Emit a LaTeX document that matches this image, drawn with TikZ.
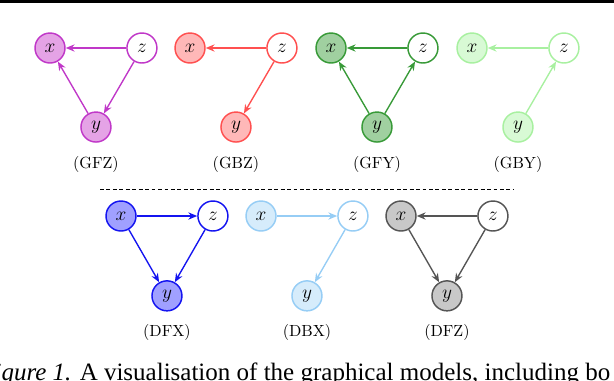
\documentclass[tikz,border=0pt]{standalone}
\usepackage{fontspec}
\newfontfamily\capfont{Liberation Serif}
\usetikzlibrary{arrows.meta, positioning}

\definecolor{gfzline}{RGB}{192,56,200}
\definecolor{gfzfill}{RGB}{229,163,230}
\definecolor{gbzline}{RGB}{255,80,80}
\definecolor{gbzfill}{RGB}{255,184,184}
\definecolor{gfyline}{RGB}{56,154,56}
\definecolor{gfyfill}{RGB}{160,208,160}
\definecolor{gbyline}{RGB}{168,240,160}
\definecolor{gbyfill}{RGB}{216,250,213}
\definecolor{dfxline}{RGB}{20,20,240}
\definecolor{dfxfill}{RGB}{160,160,255}
\definecolor{dbxline}{RGB}{150,205,245}
\definecolor{dbxfill}{RGB}{214,236,251}
\definecolor{dfzline}{RGB}{85,85,85}
\definecolor{dfzfill}{RGB}{200,200,200}

\begin{document}
\begin{tikzpicture}[
    x=0.62pt, y=-0.62pt,
    node distance=57pt, on grid,
    var/.style={circle, draw, line width=0.9pt, minimum size=18.6pt, inner sep=0pt, font=\large},
    gfz/.style={var, draw=gfzline, fill=gfzfill},
    gbz/.style={var, draw=gbzline, fill=gbzfill},
    gfy/.style={var, draw=gfyline, fill=gfyfill},
    gby/.style={var, draw=gbyline, fill=gbyfill},
    dfx/.style={var, draw=dfxline, fill=dfxfill},
    dbx/.style={var, draw=dbxline, fill=dbxfill},
    dfz/.style={var, draw=dfzline, fill=dfzfill},
    fwd/.style={-{Stealth[length=5.5pt, width=4.5pt]}, line width=0.85pt},
    bwd/.style={-{Stealth[open, length=5.5pt, width=4.5pt]}, line width=0.85pt}
]
    \useasboundingbox (0,0) rectangle (614,380);

    \coordinate (rl) at (0,1.5);
    \coordinate (rr) at (614,1.5);
    \draw[line width=1.9pt] (rl) -- (rr);

    \node[gfz] (gfzx) at (50,48) {$x$};
    \node[gfz, fill=white, right=of gfzx] (gfzz) {$z$};
    \node[gfz, below right=49pt and 28.5pt of gfzx] (gfzy) {$y$};
    \node[below=23.5pt of gfzy] (gfzl) {(GFZ)};
    \draw[fwd, gfzline] (gfzz) -- (gfzx);
    \draw[fwd, gfzline] (gfzy) -- (gfzx);
    \draw[fwd, gfzline] (gfzz) -- (gfzy);

    \node[gbz] (gbzx) at (190,48) {$x$};
    \node[gbz, fill=white, right=of gbzx] (gbzz) {$z$};
    \node[gbz, below right=49pt and 28.5pt of gbzx] (gbzy) {$y$};
    \node[below=23.5pt of gbzy] (gbzl) {(GBZ)};
    \draw[bwd, gbzline] (gbzz) -- (gbzx);
    \draw[bwd, gbzline] (gbzz) -- (gbzy);

    \node[gfy] (gfyx) at (331,48) {$x$};
    \node[gfy, fill=white, right=of gfyx] (gfyz) {$z$};
    \node[gfy, below right=49pt and 28.5pt of gfyx] (gfyy) {$y$};
    \node[below=23.5pt of gfyy] (gfyl) {(GFY)};
    \draw[fwd, gfyline] (gfyz) -- (gfyx);
    \draw[fwd, gfyline] (gfyy) -- (gfyx);
    \draw[fwd, gfyline] (gfyy) -- (gfyz);

    \node[gby] (gbyx) at (472,48) {$x$};
    \node[gby, fill=white, right=of gbyx] (gbyz) {$z$};
    \node[gby, below right=49pt and 28.5pt of gbyx] (gbyy) {$y$};
    \node[below=23.5pt of gbyy] (gbyl) {(GBY)};
    \draw[bwd, gbyline] (gbyz) -- (gbyx);
    \draw[bwd, gbyline] (gbyy) -- (gbyz);

    \coordinate (dl) at (100,189);
    \coordinate (dr) at (514,189);
    \draw[dash pattern=on 2.4pt off 1.6pt, line width=0.4pt] (dl) -- (dr);

    \node[dfx] (dfxx) at (121,216) {$x$};
    \node[dfx, fill=white, right=of dfxx] (dfxz) {$z$};
    \node[dfx, below right=49.5pt and 28.5pt of dfxx] (dfxy) {$y$};
    \node[below=23pt of dfxy] (dfxl) {(DFX)};
    \draw[bwd, dfxline] (dfxx) -- (dfxz);
    \draw[bwd, dfxline] (dfxx) -- (dfxy);
    \draw[bwd, dfxline] (dfxz) -- (dfxy);

    \node[dbx] (dbxx) at (261,216) {$x$};
    \node[dbx, fill=white, right=of dbxx] (dbxz) {$z$};
    \node[dbx, below right=49.5pt and 28.5pt of dbxx] (dbxy) {$y$};
    \node[below=23pt of dbxy] (dbxl) {(DBX)};
    \draw[bwd, dbxline] (dbxx) -- (dbxz);
    \draw[bwd, dbxline] (dbxz) -- (dbxy);

    \node[dfz] (dfzx) at (401,216) {$x$};
    \node[dfz, fill=white, right=of dfzx] (dfzz) {$z$};
    \node[dfz, below right=49.5pt and 28.5pt of dfzx] (dfzy) {$y$};
    \node[below=23pt of dfzy] (dfzl) {(DFZ)};
    \draw[fwd, dfzline] (dfzz) -- (dfzx);
    \draw[fwd, dfzline] (dfzx) -- (dfzy);
    \draw[fwd, dfzline] (dfzz) -- (dfzy);

    \node[anchor=base west, inner sep=0pt, font=\capfont\fontsize{15.5}{18}\selectfont] (cap) at (-21,380) {\textit{Figure 1.} A visualisation of the graphical models, including bo};
\end{tikzpicture}
\end{document}
